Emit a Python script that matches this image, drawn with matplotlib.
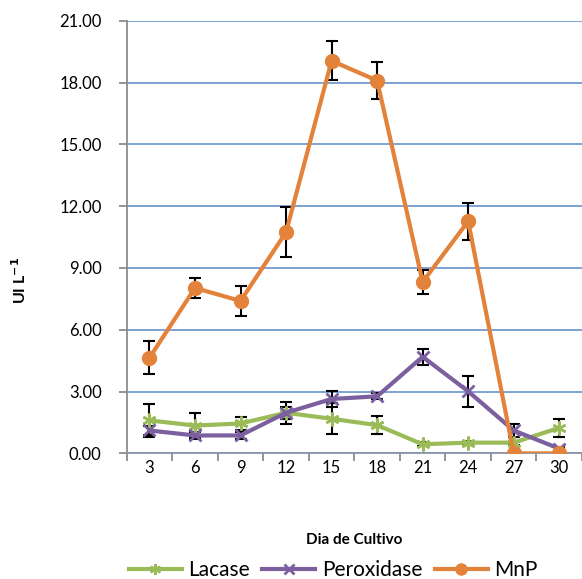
import numpy as np
import matplotlib.pyplot as plt

plt.rcParams['font.family'] = ['Lato', 'DejaVu Sans']

dias = [3, 6, 9, 12, 15, 18, 21, 24, 27, 30]

lacase = [1.60, 1.35, 1.45, 1.97, 1.68, 1.37, 0.44, 0.52, 0.52, 1.24]
lacase_err = [0.80, 0.62, 0.30, 0.54, 0.75, 0.43, 0.10, 0.10, 0.10, 0.45]

peroxidase = [1.11, 0.87, 0.87, 1.97, 2.64, 2.77, 4.69, 3.01, 1.11, 0.23]
peroxidase_err = [0.20, 0.15, 0.15, 0.30, 0.40, 0.15, 0.40, 0.77, 0.30, 0.10]

mnp = [4.64, 8.03, 7.40, 10.74, 19.06, 18.10, 8.32, 11.27, 0.0, 0.0]
mnp_err = [0.80, 0.48, 0.75, 1.20, 0.95, 0.90, 0.58, 0.90, 0.0, 0.0]

verde = '#9bbb59'
roxo = '#7b5f9f'
laranja = '#e3823a'

fig = plt.figure(figsize=(5.82, 5.79), dpi=100)
ax = fig.add_axes([0.2177, 0.217, 0.7823, 0.747])

x = np.arange(1, len(dias) + 1)

series = [
    (lacase, lacase_err, verde, (6, 2, 0), 'Lacase', 10, 1.8),
    (peroxidase, peroxidase_err, roxo, 'x', 'Peroxidase', 9, 2),
    (mnp, mnp_err, laranja, 'o', 'MnP', 10, 1),
]
for vals, err, cor, mk, nome, ms, mew in series:
    ax.errorbar(x, vals, yerr=err, fmt='none', ecolor='black', elinewidth=1.5,
                capsize=4.3, capthick=1.5, zorder=2)
    ax.plot(x, vals, color=cor, lw=3, marker=mk, ms=ms, mew=mew,
            mec=cor, mfc=cor, label=nome, zorder=3)

ax.set_xlim(0.5, 0.5 + (582 - 126.7) / 45.7)
ax.set_ylim(0, 21)
ax.set_yticks(np.arange(0, 22, 3))
ax.set_yticklabels([f'{v:.2f}' for v in np.arange(0, 22, 3)])
ax.set_xticks(x)
ax.set_xticklabels([str(d) for d in dias])
ax.set_xticks(np.arange(0.5, 11, 1), minor=True)

ax.grid(axis='y', color='#5b8ac6', lw=1.1)
ax.set_axisbelow(True)
for s in ['top', 'right']:
    ax.spines[s].set_visible(False)
ax.spines['left'].set_color('#8c8c8c')
ax.spines['bottom'].set_color('#8996a6')
for s in ['left', 'bottom']:
    ax.spines[s].set_linewidth(1.3)

ax.tick_params(axis='y', direction='out', length=6, width=1.3, color='#8c8c8c',
               labelsize=12, pad=12)
ax.tick_params(axis='x', which='major', length=0, labelsize=12, pad=5)
ax.tick_params(axis='x', which='minor', direction='out', length=6, width=1.3,
               color='#8c8c8c')

ax.set_xlabel('Dia de Cultivo', fontsize=11, fontweight='bold', labelpad=20)
ax.xaxis.set_label_coords(0.5, -0.185)
ax.set_ylabel('UI L$^{\\mathbf{-1}}$', fontsize=11.5, fontweight='bold')
ax.yaxis.set_label_coords(-0.215, 0.40)

ax.legend(loc='center', bbox_to_anchor=((333 - 126.7) / 455.3, -0.27), ncol=3,
          frameon=False, fontsize=15, handlelength=2.55, columnspacing=0.6,
          handletextpad=0.3, borderaxespad=0, borderpad=0, markerscale=0.8)

fig.savefig('out.png', dpi=100)
